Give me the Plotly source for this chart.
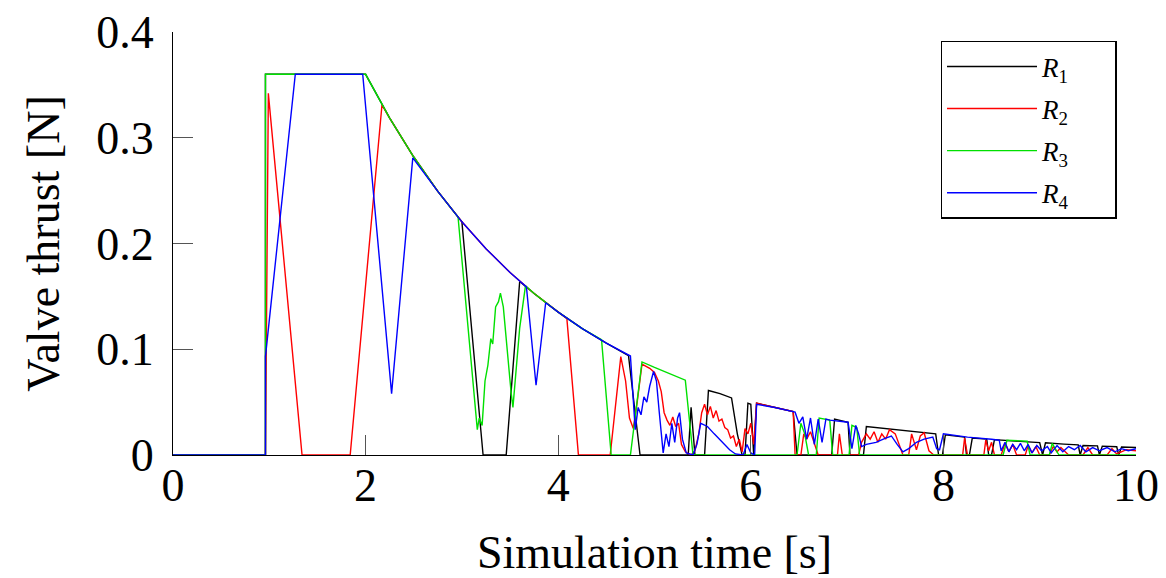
import plotly.graph_objects as go

# ---- data (time [s], valve thrust [N]) ----
x_ticks = [0, 2, 4, 6, 8, 10]
y_ticks = [0, 0.1, 0.2, 0.3, 0.4]
y_ticktext = ["0", "0.1", "0.2", "0.3", "0.4"]
series_names = ["<i>R</i><sub>1</sub>", "<i>R</i><sub>2</sub>", "<i>R</i><sub>3</sub>", "<i>R</i><sub>4</sub>"]

r1 = [(0, 0), (0.96, 0), (0.96, 0.36), (2.0, 0.36), (2.25, 0.3185), (2.5, 0.2818), (2.75, 0.2493),
      (3.0, 0.2205), (3.22, 0), (3.46, 0), (3.60, 0.164), (3.75, 0.1527), (4.0, 0.1351), (4.25, 0.1195),
      (4.5, 0.1058), (4.73, 0.094), (4.85, 0), (5.35, 0), (5.38, 0.045), (5.42, 0), (5.52, 0),
      (5.56, 0.061), (5.68, 0.058), (5.80, 0.054), (5.86, 0.02), (5.91, 0), (5.94, 0), (5.97, 0.049),
      (6.0, 0.048), (6.03, 0), (6.06, 0.049), (6.25, 0.0449), (6.44, 0.041), (6.48, 0), (6.84, 0),
      (6.87, 0.034), (7.01, 0.031), (7.03, 0), (7.17, 0), (7.20, 0.027), (7.5, 0.0243), (7.75, 0.0215),
      (7.92, 0.02), (7.95, 0), (7.99, 0), (8.02, 0.019), (8.22, 0.017), (8.24, 0), (8.27, 0),
      (8.30, 0.016), (8.45, 0.015), (8.47, 0), (8.50, 0), (8.53, 0.0145), (8.75, 0.0132), (9.0, 0.0117),
      (9.03, 0), (9.06, 0.0115), (9.25, 0.0103), (9.40, 0.0096), (9.42, 0), (9.45, 0.009), (9.60, 0.0086),
      (9.62, 0), (9.65, 0.0084), (9.80, 0.0078), (9.82, 0), (9.85, 0.0075), (10.0, 0.0071)]

r2 = [(0, 0), (0.96, 0), (0.99, 0.342), (1.34, 0), (1.84, 0), (2.17, 0.331), (2.25, 0.3185),
      (2.5, 0.2818), (2.75, 0.2493), (3.0, 0.2205), (3.25, 0.1951), (3.5, 0.1726), (3.75, 0.1527),
      (4.0, 0.1351), (4.09, 0.129), (4.21, 0), (4.54, 0), (4.65, 0.093), (4.70, 0.07), (4.74, 0.035),
      (4.78, 0.025), (4.82, 0.05), (4.87, 0.086), (4.95, 0.082), (5.0, 0.078), (5.04, 0.07), (5.07, 0.06),
      (5.1, 0.04), (5.13, 0.033), (5.16, 0.028), (5.19, 0.036), (5.22, 0.027), (5.25, 0.03), (5.28, 0.01),
      (5.32, 0.003), (5.38, 0), (5.42, 0.004), (5.46, 0.02), (5.49, 0.04), (5.52, 0.048), (5.55, 0.038),
      (5.58, 0.046), (5.61, 0.035), (5.64, 0.042), (5.67, 0.032), (5.7, 0.034), (5.73, 0.026),
      (5.76, 0.024), (5.79, 0.016), (5.82, 0.018), (5.85, 0.008), (5.88, 0.015), (5.91, 0.003),
      (5.94, 0.025), (5.97, 0.02), (6.0, 0.03), (6.03, 0.01), (6.06, 0.049), (6.25, 0.0449),
      (6.44, 0.041), (6.46, 0), (6.52, 0), (6.55, 0.02), (6.58, 0.015), (6.62, 0.022), (6.66, 0.01),
      (6.7, 0), (6.9, 0), (6.92, 0.02), (6.95, 0), (7.12, 0), (7.15, 0.012), (7.2, 0.02), (7.24, 0.015),
      (7.28, 0.022), (7.32, 0.012), (7.36, 0.02), (7.4, 0.015), (7.44, 0.024), (7.5, 0.02), (7.58, 0),
      (7.64, 0), (7.67, 0.02), (7.72, 0.005), (7.76, 0.018), (7.8, 0.021), (7.85, 0.004), (7.9, 0),
      (8.2, 0), (8.22, 0.016), (8.25, 0), (8.42, 0), (8.44, 0.014), (8.47, 0.004), (8.5, 0.012),
      (8.53, 0), (8.6, 0), (8.64, 0.011), (8.68, 0.003), (8.72, 0.01), (8.76, 0), (8.85, 0),
      (8.88, 0.009), (8.92, 0.002), (8.96, 0.008), (9.0, 0), (9.1, 0), (9.14, 0.008), (9.18, 0.003),
      (9.22, 0.007), (9.3, 0), (9.45, 0), (9.5, 0.007), (9.55, 0), (9.7, 0), (9.75, 0.006),
      (9.8, 0.001), (9.9, 0.005), (10.0, 0.004)]

r3 = [(0, 0), (0.96, 0), (0.96, 0.36), (2.0, 0.36), (2.25, 0.3185), (2.5, 0.2818), (2.75, 0.2493),
      (2.96, 0.225), (3.16, 0.024), (3.18, 0.035), (3.21, 0.028), (3.24, 0.07), (3.27, 0.085),
      (3.3, 0.11), (3.32, 0.105), (3.35, 0.14), (3.38, 0.145), (3.40, 0.153), (3.43, 0.14),
      (3.46, 0.11), (3.49, 0.075), (3.51, 0.06), (3.53, 0.045), (3.56, 0.08), (3.6, 0.12),
      (3.66, 0.16), (3.75, 0.1527), (4.0, 0.1351), (4.25, 0.1195), (4.45, 0.109), (4.55, 0),
      (4.75, 0), (4.87, 0.088), (5.0, 0.0828), (5.25, 0.0732), (5.32, 0.0708), (5.40, 0),
      (6.48, 0), (6.52, 0.03), (6.56, 0.02), (6.6, 0), (6.68, 0), (6.71, 0.035), (6.82, 0.033),
      (6.85, 0), (7.02, 0), (7.05, 0.028), (7.1, 0.026), (7.13, 0), (8.62, 0), (8.66, 0.014),
      (8.87, 0.013), (8.9, 0), (9.1, 0), (9.13, 0.011), (9.2, 0), (10.0, 0)]

r4 = [(0, 0), (0.96, 0), (0.96, 0.093), (1.27, 0.36), (1.97, 0.36), (2.27, 0.058), (2.49, 0.281),
      (2.75, 0.2493), (3.0, 0.2205), (3.25, 0.1951), (3.5, 0.1726), (3.67, 0.159), (3.77, 0.066),
      (3.87, 0.144), (4.0, 0.1351), (4.25, 0.1195), (4.5, 0.1058), (4.75, 0.0936), (4.80, 0.024),
      (4.83, 0.045), (4.86, 0.038), (4.89, 0.055), (4.92, 0.05), (4.95, 0.065), (4.99, 0.079),
      (5.02, 0.07), (5.05, 0.04), (5.09, 0.002), (5.12, 0.02), (5.15, 0.008), (5.18, 0.03),
      (5.21, 0.012), (5.24, 0.035), (5.26, 0.04), (5.29, 0.015), (5.33, 0.002), (5.4, 0),
      (5.44, 0.01), (5.48, 0.03), (5.55, 0.027), (5.62, 0.02), (5.7, 0.012), (5.78, 0.005),
      (5.84, 0.001), (5.92, 0), (5.96, 0.01), (6.0, 0.002), (6.04, 0), (6.06, 0.048), (6.25, 0.0449),
      (6.46, 0.0405), (6.5, 0.03), (6.54, 0.036), (6.58, 0.015), (6.62, 0.035), (6.66, 0.01),
      (6.7, 0.034), (6.74, 0.012), (6.78, 0.034), (6.82, 0.033), (7.01, 0.031), (7.05, 0.006),
      (7.09, 0.028), (7.12, 0.02), (7.15, 0.008), (7.2, 0.01), (7.3, 0.012), (7.4, 0.016),
      (7.46, 0.018), (7.52, 0.01), (7.58, 0.003), (7.64, 0.006), (7.72, 0.012), (7.8, 0.015),
      (7.89, 0.017), (7.93, 0.006), (7.96, 0.005), (8.0, 0.02), (8.25, 0.0169), (8.5, 0.0149),
      (8.58, 0.014), (8.6, 0.004), (8.64, 0.012), (8.68, 0.003), (8.72, 0.01), (8.76, 0.005),
      (8.8, 0.011), (8.84, 0.004), (8.88, 0.01), (8.92, 0.002), (8.97, 0.009), (9.02, 0.004),
      (9.08, 0.008), (9.12, 0.002), (9.18, 0.009), (9.24, 0.003), (9.3, 0.008), (9.36, 0.005),
      (9.42, 0.009), (9.48, 0.003), (9.55, 0.007), (9.62, 0.004), (9.7, 0.007), (9.78, 0.003),
      (9.85, 0.006), (9.92, 0.004), (10.0, 0.006)]

series = [r1, r2, r3, r4]
colors = ["#000000", "#ff0000", "#00e000", "#0000ff"]

SERIF = "Liberation Serif, Times New Roman, serif"
PAD = "&nbsp;" * 6

fig = go.Figure()
for i, (data, name, col) in enumerate(zip(series, series_names, colors)):
    fig.add_trace(go.Scatter(
        x=[p[0] for p in data], y=[p[1] for p in data],
        mode="lines", name=name + PAD, legendgroup=f"g{i}",
        line=dict(color=col, width=1.4),
    ))

axis_common = dict(
    showline=True, linecolor="#000000", linewidth=1.3, mirror=False,
    ticks="inside", ticklen=20, tickwidth=1, tickcolor="#555555",
    showgrid=False, zeroline=False, automargin=False, ticklabeloverflow="allow",
    tickfont=dict(family=SERIF, size=46, color="#000000"),
)

# the page body adds an 8px margin, so the figure is sized 8px smaller
fig.update_layout(
    width=1158, height=570,
    paper_bgcolor="white", plot_bgcolor="white",
    margin=dict(l=165, r=30, t=24, b=123),
    xaxis=dict(range=[0, 10], tickvals=x_ticks, ticktext=[str(v) for v in x_ticks],
               title=dict(text="Simulation time [s]", font=dict(family=SERIF, size=46, color="#000000"),
                          standoff=36),
               ticklabelstandoff=-10,
               **axis_common),
    yaxis=dict(range=[0, 0.4], tickvals=y_ticks, ticktext=y_ticktext,
               title=dict(text="Valve thrust [N]", font=dict(family=SERIF, size=46, color="#000000"),
                          standoff=22),
               ticklabelstandoff=9,
               **axis_common),
    legend=dict(
        x=0.797, y=0.979, xanchor="left", yanchor="top",
        bgcolor="white", bordercolor="#000000", borderwidth=1.5,
        font=dict(family=SERIF, size=27, color="#000000"),
        tracegroupgap=4, itemwidth=90,
    ),
    showlegend=True,
)

fig.write_html("out.html")
